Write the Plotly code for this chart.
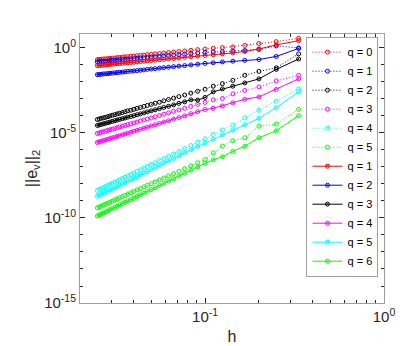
import plotly.graph_objects as go

# step size h (x axis)
h = [0.3333, 0.25, 0.2, 0.1667, 0.1429, 0.125, 0.1111, 0.1, 0.0909, 0.0833,
     0.0769, 0.0714, 0.0667, 0.0625, 0.0588, 0.0556, 0.0526, 0.05, 0.0476, 0.0455,
     0.0435, 0.0417, 0.04, 0.0385, 0.037, 0.0357, 0.0345, 0.0333, 0.0323, 0.0313,
     0.0303, 0.0294, 0.0286, 0.0278, 0.027, 0.0263, 0.0256, 0.025]

# log10 of the error norm
dot_q0 = [0.57, 0.37, 0.26, 0.15, 0.06, 0.02, -0.02, -0.06, -0.10, -0.14, -0.18, -0.21, -0.24,
          -0.27, -0.30, -0.33, -0.35, -0.38, -0.40, -0.42, -0.44, -0.46, -0.48, -0.49, -0.51,
          -0.53, -0.54, -0.56, -0.57, -0.59, -0.60, -0.62, -0.63, -0.64, -0.65, -0.67, -0.68, -0.69]
dot_q1 = [0.00, 0.12, -0.09, -0.15, -0.19, -0.22, -0.23, -0.26, -0.30, -0.33, -0.37, -0.40, -0.42,
          -0.45, -0.47, -0.50, -0.52, -0.54, -0.56, -0.58, -0.60, -0.61, -0.63, -0.65, -0.66,
          -0.68, -0.69, -0.70, -0.72, -0.73, -0.74, -0.75, -0.77, -0.78, -0.79, -0.80, -0.81, -0.82]
dot_q2 = [-0.35, -1.17, -1.38, -1.61, -1.91, -2.10, -2.25, -2.43, -2.55, -2.66, -2.77, -2.86, -2.95,
          -3.03, -3.11, -3.19, -3.25, -3.32, -3.38, -3.44, -3.50, -3.55, -3.61, -3.66, -3.70,
          -3.75, -3.80, -3.84, -3.88, -3.92, -3.96, -4.00, -4.04, -4.08, -4.11, -4.14, -4.18, -4.21]
dot_q3 = [-1.61, -1.94, -2.29, -2.50, -2.70, -2.97, -3.05, -3.20, -3.32, -3.44, -3.55, -3.65, -3.73,
          -3.82, -3.90, -3.98, -4.05, -4.12, -4.18, -4.24, -4.30, -4.36, -4.41, -4.46, -4.51,
          -4.56, -4.60, -4.65, -4.69, -4.74, -4.78, -4.81, -4.85, -4.89, -4.93, -4.96, -5.00, -5.03]
dot_q4 = [-2.41, -3.14, -3.67, -4.11, -4.54, -4.82, -5.09, -5.34, -5.55, -5.74, -5.92, -6.08, -6.23,
          -6.37, -6.50, -6.63, -6.75, -6.86, -6.97, -7.07, -7.17, -7.26, -7.35, -7.44, -7.52,
          -7.60, -7.67, -7.75, -7.82, -7.89, -7.96, -8.02, -8.09, -8.15, -8.21, -8.27, -8.33, -8.38]
dot_q5 = [-3.61, -4.48, -4.60, -5.28, -5.46, -5.77, -6.17, -6.56, -6.75, -6.93, -7.10, -7.25, -7.39,
          -7.52, -7.65, -7.76, -7.88, -7.98, -8.08, -8.17, -8.27, -8.35, -8.44, -8.52, -8.59,
          -8.67, -8.74, -8.81, -8.88, -8.94, -9.01, -9.07, -9.13, -9.18, -9.24, -9.30, -9.35, -9.40]

sol_q1 = [0.43, 0.18, -0.06, -0.21, -0.29, -0.35, -0.40, -0.44, -0.48, -0.52, -0.55, -0.59, -0.62,
          -0.64, -0.67, -0.69, -0.72, -0.74, -0.76, -0.78, -0.80, -0.82, -0.84, -0.85, -0.87,
          -0.89, -0.90, -0.92, -0.93, -0.94, -0.96, -0.97, -0.98, -0.99, -1.01, -1.02, -1.03, -1.04]
sol_q2 = [-0.03, -0.50, -0.68, -0.73, -0.78, -0.82, -0.87, -0.91, -0.96, -1.00, -1.04, -1.07, -1.10,
          -1.13, -1.16, -1.19, -1.22, -1.24, -1.26, -1.29, -1.31, -1.33, -1.35, -1.37, -1.38,
          -1.40, -1.42, -1.43, -1.45, -1.46, -1.48, -1.49, -1.51, -1.52, -1.53, -1.55, -1.56, -1.57]
sol_q3 = [-0.65, -1.26, -1.82, -2.06, -2.25, -2.41, -2.58, -2.91, -3.07, -3.05, -3.17, -3.26, -3.35,
          -3.43, -3.50, -3.57, -3.64, -3.70, -3.76, -3.82, -3.88, -3.93, -3.98, -4.03, -4.07,
          -4.12, -4.16, -4.20, -4.24, -4.28, -4.32, -4.36, -4.39, -4.43, -4.46, -4.50, -4.53, -4.56]
sol_q4 = [-1.82, -2.44, -2.88, -3.02, -3.23, -3.41, -3.55, -3.62, -3.75, -3.87, -3.99, -4.09, -4.19,
          -4.28, -4.36, -4.44, -4.52, -4.59, -4.66, -4.72, -4.79, -4.84, -4.90, -4.96, -5.01,
          -5.06, -5.11, -5.16, -5.20, -5.25, -5.29, -5.33, -5.37, -5.41, -5.45, -5.49, -5.53, -5.56]
sol_q5 = [-2.58, -3.51, -4.14, -4.52, -4.83, -5.11, -5.38, -5.58, -5.79, -5.99, -6.18, -6.35, -6.50,
          -6.65, -6.78, -6.92, -7.04, -7.16, -7.27, -7.37, -7.47, -7.57, -7.66, -7.75, -7.84,
          -7.92, -8.00, -8.08, -8.15, -8.22, -8.30, -8.36, -8.43, -8.49, -8.55, -8.61, -8.67, -8.73]
sol_q6 = [-3.98, -4.87, -5.28, -5.78, -6.08, -6.40, -6.58, -6.78, -6.99, -7.19, -7.37, -7.53, -7.69,
          -7.83, -7.96, -8.09, -8.22, -8.33, -8.44, -8.54, -8.64, -8.74, -8.83, -8.92, -9.00,
          -9.08, -9.16, -9.24, -9.31, -9.38, -9.45, -9.51, -9.58, -9.64, -9.71, -9.77, -9.82, -9.88]

dotted = [("q = 0", dot_q0), ("q = 1", dot_q1), ("q = 2", dot_q2),
          ("q = 3", dot_q3), ("q = 4", dot_q4), ("q = 5", dot_q5)]
solid = [("q = 1", sol_q1), ("q = 2", sol_q2), ("q = 3", sol_q3),
         ("q = 4", sol_q4), ("q = 5", sol_q5), ("q = 6", sol_q6)]
colors = ["#ff0000", "#0000ff", "#000000", "#ff00ff", "#00ffff", "#00ff00"]

fig = go.Figure()

for (name, vals), c in zip(dotted, colors):
    fig.add_trace(go.Scatter(
        x=h, y=[10 ** v for v in vals], name=name, mode="lines+markers",
        line=dict(color=c, width=1, dash="1px,2px"),
        marker=dict(symbol="circle-open", size=4, color=c, line=dict(width=1, color=c)),
    ))

for (name, vals), c in zip(solid, colors):
    fig.add_trace(go.Scatter(
        x=h, y=[10 ** v for v in vals], name=name, mode="lines+markers",
        line=dict(color=c, width=1),
        marker=dict(symbol="circle-open-dot", size=4, color=c, line=dict(width=1, color=c)),
    ))

axis_common = dict(
    type="log", showgrid=False, zeroline=False, showline=True,
    linecolor="#a0a0a0", linewidth=1, mirror="allticks",
    ticks="inside", ticklen=5, tickcolor="#262626",
    tickfont=dict(size=15, color="#262626"),
)

fig.update_xaxes(
    **axis_common,
    range=[-1.699, 0],
    tickmode="array", tickvals=[0.1, 1],
    ticktext=["10<sup>-1</sup>", "10<sup>0</sup>"],
    minor=dict(ticks="inside", ticklen=3, dtick="D1", tickcolor="#262626"),
    title=dict(text="h", font=dict(size=16, color="#262626"), standoff=6),
)
fig.update_yaxes(
    **axis_common,
    range=[-15, 0.82],
    tickmode="array", tickvals=[1e-15, 1e-10, 1e-5, 1],
    ticktext=["10<sup>-15</sup>", "10<sup>-10</sup>", "10<sup>-5</sup>", "10<sup>0</sup>"],
    minor=dict(ticks="inside", ticklen=3, dtick=1, tickcolor="#262626"),
    title=dict(text="||e<sub>v</sub>||<sub>2</sub>", font=dict(size=16, color="#262626"), standoff=2),
)

fig.update_layout(
    width=415, height=346,
    margin=dict(l=72, r=39, t=26, b=51),
    paper_bgcolor="white", plot_bgcolor="white",
    font=dict(family="Liberation Sans, Arial, sans-serif", color="#262626"),
    showlegend=True,
    legend=dict(
        x=0.745, y=0.99, xanchor="left", yanchor="top",
        bgcolor="white", bordercolor="#a0a0a0", borderwidth=1,
        font=dict(size=11, color="#000000"),
        itemwidth=30, tracegroupgap=0,
    ),
)

fig.write_html("out.html")
